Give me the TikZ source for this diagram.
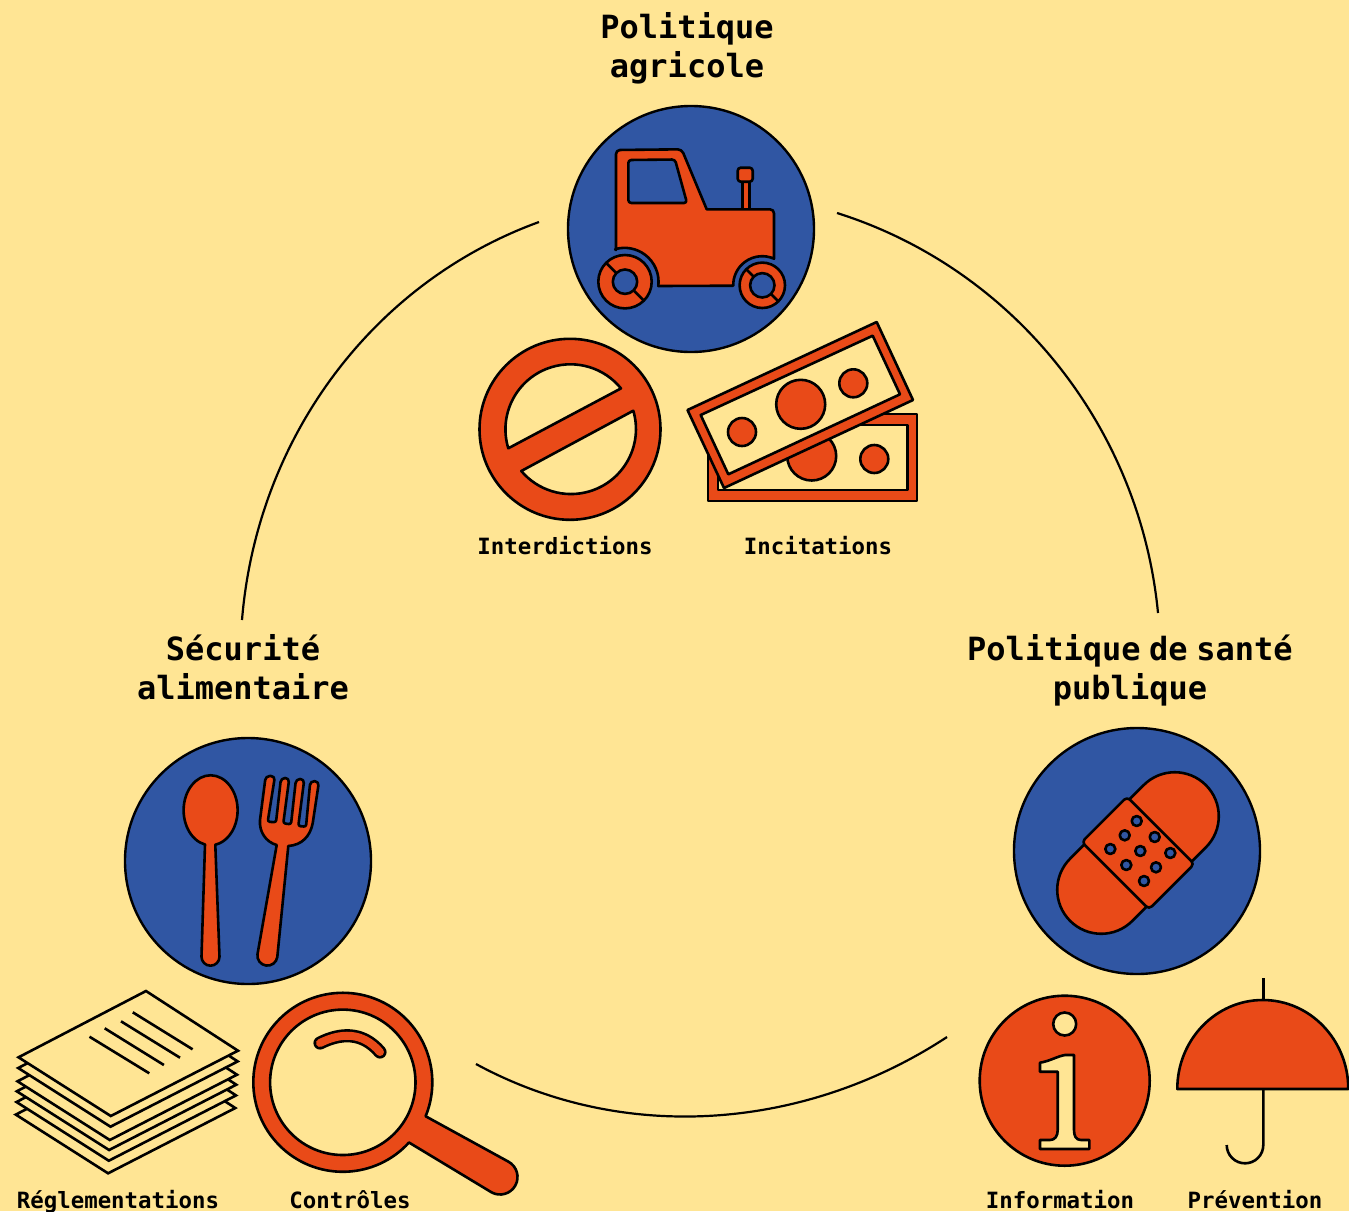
\documentclass[tikz,border=0pt]{standalone}
\usepackage{fontspec}
\usetikzlibrary{positioning}
\newfontfamily\fontmono[WordSpace=0.45]{DejaVu Sans Mono Bold}
\definecolor{fond}{HTML}{FFE594}
\definecolor{bleu}{HTML}{3056A3}
\definecolor{rouge}{HTML}{E94A18}
\begin{document}
\begin{tikzpicture}[
x=1pt, y=-1pt,
rond/.style={circle, draw=black, fill=bleu, line width=2.4pt, minimum size=246pt, inner sep=0pt},
titre/.style={align=center, inner sep=0pt, font=\fontmono\fontsize{32}{39}\selectfont},
legende/.style={inner sep=0pt, font=\fontmono\fontsize{22.4}{27}\selectfont},
boucle/.style={draw=black, line width=2.2pt},
icone/.style={draw=black, fill=rouge, line width=2.6pt, line join=round},
creux/.style={draw=black, fill=fond, line width=2.6pt, line join=round},
trou/.style={draw=black, fill=bleu, line width=2.6pt, line join=round},
trait/.style={draw=black, line width=2.6pt},
]
    % Fond et cadre
    \fill[fond] (0,0) rectangle (1349,1211);
    \useasboundingbox (0,0) rectangle (1349,1211);

    % Définition des cercles
    \node [rond] (agricole) at (691,229) {};
    \node [rond] (securite) at (248,861) {};
    \node [rond] (sante) at (1137,851) {};

    % Définition des titres
    \node [titre, above of=agricole, node distance=179pt, xshift=-4pt] (titreagricole) {\strut Politique\\\strut agricole};
    \node [titre, above of=securite, node distance=189pt, xshift=-5pt] (titresecurite) {\strut Sécurité\\\strut alimentaire};
    \node [titre, above of=sante, node distance=179pt, xshift=-7pt] (titresante) {\strut Politique de santé\\\strut publique};

    % Définition des légendes
    \node [legende] (interdictions) at (565,549) {\strut Interdictions};
    \node [legende, right of=interdictions, node distance=253pt] (incitations) {\strut Incitations};
    \node [legende] (reglementations) at (118,1202.8) {\strut Réglementations};
    \node [legende, right of=reglementations, node distance=232pt] (controles) {\strut Contrôles};
    \node [legende] (information) at (1060,1202.8) {\strut Information};
    \node [legende, right of=information, node distance=195pt] (prevention) {\strut Prévention};

    % Définition des liens
    \coordinate (gauchehaut) at (539,222);
    \coordinate (gauchebas) at (242,620);
    \coordinate (droitehaut) at (837,213);
    \coordinate (droitebas) at (1158,613);
    \coordinate (basgauche) at (476,1064);
    \coordinate (basdroite) at (947,1037);
    \draw [boucle] (gauchehaut) .. controls (370,283.5) and (256.6,440.8) .. (gauchebas);
    \draw [boucle] (droitehaut) .. controls (1014.3,268.9) and (1140.3,427.9) .. (droitebas);
    \draw [boucle] (basgauche) .. controls (624.6,1144.7) and (805.7,1129.8) .. (basdroite);

    % Tracteur
    \draw [icone] (742.7,209.3) rectangle (749.3,181.7);
    \draw [icone, rounded corners=3pt] (737.7,167.7) rectangle (752.7,181.7);
    \draw [icone] (616,250) [rounded corners=4pt] -- (616,150) -- (681.7,149.3) [sharp corners] -- (706.7,209.3) [rounded corners=4pt] -- (774,209.3) [sharp corners] -- (774,258.7)
        arc[start angle=-66, end angle=-181, radius=29] -- (658.3,286)
        arc[start angle=7, end angle=-106, radius=34] -- cycle;
    \draw [trou, rounded corners=3pt] (628.3,160) -- (675,159.5) -- (687,203) -- (628.3,203) -- cycle;
    \foreach \cx/\cy/\rext in {625/281.7/26.7, 762.3/285.3/22.7} {
        \draw [icone] (\cx,\cy) circle[radius=\rext];
        \draw [trait] (\cx-0.707*\rext,\cy-0.707*\rext) -- (\cx+0.707*\rext,\cy+0.707*\rext);
        \draw [trou] (\cx,\cy) circle[radius=12.2];
    }

    % Interdiction
    \draw [icone] (570,429.3) circle[radius=90.5];
    \draw [creux] (508.3,448.3) arc[start angle=163, end angle=321, radius=65] -- cycle;
    \draw [creux] (633.3,410.7) arc[start angle=-16.4, end angle=139.8, radius=65] -- cycle;

    % Billets
    \draw [icone] (708,414) rectangle (917,501);
    \draw [creux] (718,425) rectangle (907.7,490);
    \draw [icone] (811.7,456) circle[radius=24.5];
    \draw [icone] (874.3,459) circle[radius=14];
    \draw [icone] (876.7,322) -- (913,400) -- (724,488) -- (687.5,410) -- cycle;
    \draw [creux] (872.7,335.7) -- (900,394.3) -- (728.3,474.3) -- (700.7,415) -- cycle;
    \draw [icone] (853.3,383.3) circle[radius=14];
    \draw [icone] (800.7,404.3) circle[radius=24.5];
    \draw [icone] (742,432) circle[radius=14];

    % Couverts
    \draw [icone] (205,844.5) arc[start angle=102, end angle=440, x radius=27, y radius=35]
        -- (219.5,956.7) arc[start angle=0, end angle=180, radius=9] -- cycle;
    \draw [icone] (288.3,846) -- (277.3,957) arc[start angle=8, end angle=188, radius=10] -- (276.7,845)
        .. controls (266,842) and (259,832) .. (260,820)
        [rounded corners=4pt] -- (265.7,776) -- (275,776) [rounded corners=2.2pt] -- (267.7,821.7) -- (276,822.3)
        [rounded corners=4pt] -- (281,778) -- (289.3,778) [rounded corners=2.2pt] -- (283.3,823.3) -- (291,824.3)
        [rounded corners=4pt] -- (296,779) -- (304.3,779) [rounded corners=2.2pt] -- (298.3,826) -- (306,826.7)
        [rounded corners=4pt] -- (310.3,781) -- (319,781.5) [sharp corners] -- (312.7,823.3)
        .. controls (310,836.7) and (301.7,845) .. (288.3,846) -- cycle;

    % Pansement
    \begin{scope}[shift={(1138,853)}, rotate=45]
        \draw [icone] (-52,-44) -- (52,-44) arc[start angle=-90, end angle=90, radius=44] -- (-52,44) arc[start angle=90, end angle=270, radius=44] -- cycle;
        \draw [icone, rounded corners=4pt] (-32,-47.5) rectangle (32,47.5);
    \end{scope}
    \foreach \px/\py in {1136.7/821, 1124.7/835.3, 1154.7/837, 1110.3/849, 1140.3/851, 1170.3/853, 1126.3/865, 1156/867.3, 1144/881} {
        \draw [trou] (\px,\py) circle[radius=5];
    }

    % Feuilles
    \foreach \dx/\dy in {-2.7/57.3, -2/44.7, -1.7/34, -1/24, -0.3/10.7, 0/0} {
        \draw [creux, line join=miter] (146+\dx,991+\dy) -- (238+\dx,1050.7+\dy) -- (110.8+\dx,1116+\dy) -- (18.5+\dx,1057.3+\dy) -- cycle;
    }
    \draw [trait] (89.5,1036.7) -- (149.3,1073.3);
    \draw [trait] (104.7,1028.3) -- (163.9,1065);
    \draw [trait] (121,1021.3) -- (180,1057.7);
    \draw [trait] (132.8,1012.3) -- (192.6,1049.3);

    % Loupe
    \draw [icone] (409,1142.5) arc[start angle=42.3, end angle=382.3, radius=89.5] -- (508.5,1161.7)
        arc[start angle=-61, end angle=119, radius=17.5] -- cycle;
    \draw [creux] (342.8,1082.3) circle[radius=72.7];
    \draw [draw=black, line width=2.6pt, double=rouge, double distance=8pt, line cap=round] (320,1043) .. controls (340,1033) and (362,1031) .. (380,1052);

    % Information
    \draw [icone] (1064.7,1080.7) circle[radius=85];
    \draw [creux] (1064.7,1024) circle[radius=11.5];
    \draw [creux] (1040,1062.7) .. controls (1050,1061) and (1058,1056) .. (1065,1055) -- (1074,1055) -- (1074,1130)
        .. controls (1074,1136) and (1076,1140) .. (1081,1140) -- (1089.3,1140) -- (1089.3,1149) -- (1040,1149) -- (1040,1140) -- (1050,1140)
        .. controls (1055,1140) and (1057.7,1136) .. (1057.7,1130) -- (1057.7,1071.7) -- (1040,1071.7) -- cycle;

    % Parapluie
    \draw [trait] (1263.3,978.3) -- (1263.3,1000);
    \draw [trait] (1263.3,1089) -- (1263.3,1145) arc[start angle=0, end angle=180, radius=18.3];
    \draw [icone] (1177.3,1089) arc[start angle=180, end angle=360, x radius=85.5, y radius=89] -- cycle;
\end{tikzpicture}
\end{document}
